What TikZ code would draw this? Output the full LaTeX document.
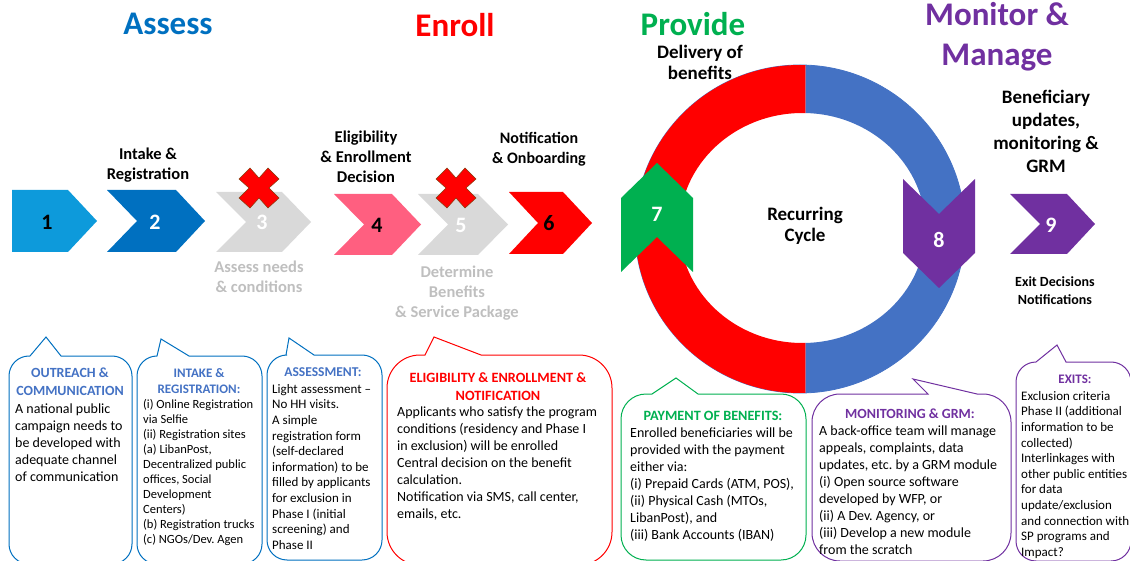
\documentclass[tikz,border=0pt]{standalone}
\usepackage{fontspec}
\setmainfont{Carlito}
\frenchspacing
\definecolor{cblue}{HTML}{0070C0}
\definecolor{cbluetext}{HTML}{4472C4}
\definecolor{csky}{HTML}{0D9ADB}
\definecolor{cpink}{HTML}{FF5F80}
\definecolor{cgrey}{HTML}{D9D9D9}
\definecolor{cgreytext}{HTML}{BFBFBF}
\definecolor{cgreen}{HTML}{00B050}
\definecolor{cpurple}{HTML}{7030A0}
\definecolor{cxedge}{HTML}{843C0C}
\tikzset{
  title/.style={inner sep=0,font=\bfseries\fontsize{33}{40}\selectfont,align=center},
  steplabel/.style={inner sep=0,font=\bfseries\fontsize{16.5}{20}\selectfont,align=center},
  stepnum/.style={inner sep=0,font=\bfseries\fontsize{22}{24}\selectfont},
  shapefill/.style={fill=#1,draw=none},
  xmark/.style={fill=red,draw=cxedge,line width=.5pt},
  bubble/.style={draw=#1,fill=white,line width=1pt},
  head/.style={inner sep=0,font=\bfseries\fontsize{#1}{#1}\selectfont,align=center},
  bodyL/.style={anchor=north west,inner sep=0,align=left,font=\fontsize{14}{17}\selectfont},
  bodyS/.style={anchor=north west,inner sep=0,align=left,font=\fontsize{13}{15.6}\selectfont},
}
% right-pointing chevron: x-left, notch x, shoulder x, tip x, top y, bottom y, colour
\newcommand\chevR[7]{\path[shapefill=#7] (#1,#5) -- (#3,#5) -- (#4,{(#5+#6)/2}) -- (#3,#6) -- (#1,#6) -- (#2,{(#5+#6)/2}) -- cycle;}
% colour; then l, r, t, b, radius, base1, base2, apexx, apexy
\newcommand\bubbleshape[1]{\def\bcol{#1}\bubbleaux}
\newcommand\bubbleaux[9]{\draw[bubble=\bcol] (#6,#3) -- (#8,#9) -- (#7,#3) -- ({#2-#5},#3) arc[start angle=270,end angle=360,radius=#5] -- (#2,{#4-#5}) arc[start angle=0,end angle=90,radius=#5] -- ({#1+#5},#4) arc[start angle=90,end angle=180,radius=#5] -- (#1,{#3+#5}) arc[start angle=180,end angle=270,radius=#5] -- cycle;}
\newcommand\xmarkat[2]{\path[xmark,shift={(#1,#2)}] (0,-10) -- (9,-20) -- (20,-9) -- (10,0) -- (20,10) -- (9,20) -- (0,10) -- (-9,20) -- (-20,10) -- (-10,0) -- (-20,-9) -- (-9,-20) -- cycle;}
\newcommand\ringpath{(800,229) ellipse [x radius=165,y radius=164] (802.5,228) ellipse [x radius=123,y radius=115]}
\begin{document}
\begin{tikzpicture}[x=1pt,y=-1pt]
\useasboundingbox (0,0) rectangle (1130,561);
\clip (0,0) rectangle (1130,561);
% ring
\draw[cbluetext,line width=.8pt] (800,229) ellipse [x radius=165,y radius=164];
\begin{scope}
\clip (600,40) rectangle (805.5,420);
\fill[red,even odd rule] \ringpath;
\end{scope}
\begin{scope}
\clip (805.5,40) rectangle (1000,420);
\fill[cbluetext,even odd rule] \ringpath;
\end{scope}
% chevrons
\path[shapefill=csky] (12,190) -- (68,190) -- (97,221) -- (68,252) -- (12,252) -- cycle;
\chevR{107}{137}{176}{205}{190}{252}{cblue}
\chevR{216}{246}{282}{311}{192}{252}{cgrey}
\chevR{334}{364}{392}{421}{194}{255}{cpink}
\chevR{418}{448}{478}{508}{194}{255}{cgrey}
\chevR{509}{538}{563}{592}{192}{254}{red}
\path[shapefill=cgreen] (657,163) -- (693,198) -- (693,272) -- (657,237) -- (621,272) -- (621,198) -- cycle;
\path[shapefill=cpurple] (903,179) -- (939,214) -- (975,179) -- (975,253) -- (939,288) -- (903,253) -- cycle;
\chevR{1010}{1040}{1067}{1095}{194}{254}{cpurple}
\xmarkat{259}{188}
\xmarkat{456}{188}
% numbers
\node[stepnum,text=black] (n1) at (47,222) {1};
\node[stepnum,text=white] (n2) at (155,222) {2};
\node[stepnum,text=white] (n3) at (262,222) {3};
\node[stepnum,text=black] (n4) at (377,225) {4};
\node[stepnum,text=white] (n5) at (461,225) {5};
\node[stepnum,text=black] (n6) at (549,223) {6};
\node[stepnum,text=white] (n7) at (657,214) {7};
\node[stepnum,text=white] (n8) at (939,240) {8};
\node[stepnum,text=white] (n9) at (1051,225) {9};
% titles
\node[title,text=cblue] (tAssess) at (168,24) {Assess};
\node[title,text=red] (tEnroll) at (455,25) {Enroll};
\node[title,text=cgreen] (tProvide) at (693,24) {Provide};
\node[title,text=cpurple] (tMonitor) at (997,37) {Monitor \&\\Manage};
% step labels
\node[steplabel] (lIntake) at (148,165) {Intake \&\\Registration};
\node[steplabel,text=cgreytext] (lAssess) at (259,277) {Assess needs\\\& conditions};
\node[steplabel] (lElig) at (366,157) {Eligibility\\\& Enrollment\\Decision};
\node[steplabel,font=\bfseries\fontsize{16}{20}\selectfont] (lNotif) at (539,149) {Notification\\\& Onboarding};
\node[steplabel,text=cgreytext] (lDet) at (457,293) {Determine\\Benefits\\\& Service Package};
\node[steplabel,font=\bfseries\fontsize{19}{21}\selectfont] (lDeliv) at (700,62) {Delivery of\\benefits};
\node[steplabel,font=\bfseries\fontsize{19}{23}\selectfont] (lBen) at (1046,131) {Beneficiary\\updates,\\monitoring \&\\GRM};
\node[steplabel,font=\bfseries\fontsize{19}{21.5}\selectfont] (lCycle) at (805,226) {Recurring\\Cycle};
\node[steplabel,font=\bfseries\fontsize{14}{18}\selectfont] (lExit) at (1055,291) {Exit Decisions\\Notifications};
% callouts
\bubbleshape{cblue}{9}{132}{356}{564}{20}{30}{61}{46}{337}
\bubbleshape{cblue}{137}{262}{356}{564}{20}{157}{189}{161}{339}
\bubbleshape{cblue}{267}{382}{355}{560}{20}{286}{314}{289}{338}
\bubbleshape{red}{387}{612}{355}{565}{33}{425}{481}{434}{337}
\bubbleshape{cgreen}{621}{806}{394}{560}{25}{652}{698}{676}{378}
\bubbleshape{cpurple}{812}{1011}{394}{561}{28}{928}{977}{913}{379}
\bubbleshape{cpurple}{1016}{1131}{362}{561}{20}{1036}{1066}{1057}{345}
% callout texts
\node[head=14,text=cbluetext,font=\bfseries\fontsize{14}{18}\selectfont] (h1) at (70,382) {OUTREACH \&\\COMMUNICATION};
\node[bodyL] (b1) at (15,404) {A national public\\campaign needs to\\be developed with\\adequate channel\\of communication};
\node[head=13,text=cbluetext,font=\bfseries\fontsize{13}{16}\selectfont] (h2) at (199,381) {INTAKE \&\\REGISTRATION:};
\node[bodyS,font=\fontsize{12.5}{15}\selectfont] (b2) at (143,399) {(i) Online Registration\\via Selfie\\(ii) Registration sites\\(a) LibanPost,\\Decentralized public\\offices, Social\\Development\\Centers)\\(b) Registration trucks\\(c) NGOs/Dev. Agen};
\node[head=13.5,text=cbluetext] (h3) at (323,372) {ASSESSMENT:};
\node[bodyS] (b3) at (272,384) {Light assessment --\\No HH visits.\\A simple\\registration form\\(self-declared\\information) to be\\filled by applicants\\for exclusion in\\Phase I (initial\\screening) and\\Phase II};
\node[head=14.2,text=red,font=\bfseries\fontsize{14.2}{18}\selectfont] (h4) at (498,387) {ELIGIBILITY \& ENROLLMENT \&\\NOTIFICATION};
\node[bodyL] (b4) at (397,407) {Applicants who satisfy the program\\conditions (residency and Phase I\\in exclusion) will be enrolled\\Central decision on the benefit\\calculation.\\Notification via SMS, call center,\\emails, etc.};
\node[head=14.2,text=cgreen] (h5) at (713,416) {PAYMENT OF BENEFITS:};
\node[bodyL] (b5) at (630,428) {Enrolled beneficiaries will be\\provided with the payment\\either via:\\(i) Prepaid Cards (ATM, POS),\\(ii) Physical Cash (MTOs,\\LibanPost), and\\(iii) Bank Accounts (IBAN)};
\node[head=14,text=cpurple] (h6) at (910,414) {MONITORING \& GRM:};
\node[bodyL] (b6) at (819,426) {A back-office team will manage\\appeals, complaints, data\\updates, etc. by a GRM module\\(i) Open source software\\developed by WFP, or\\(ii) A Dev. Agency, or\\(iii) Develop a new module\\from the scratch};
\node[head=13,text=cpurple] (h7) at (1075,379) {EXITS:};
\node[bodyS] (b7) at (1021,391) {Exclusion criteria\\Phase II (additional\\information to be\\collected)\\Interlinkages with\\other public entities\\for data\\update/exclusion\\and connection with\\SP programs and\\Impact?};
\end{tikzpicture}
\end{document}
